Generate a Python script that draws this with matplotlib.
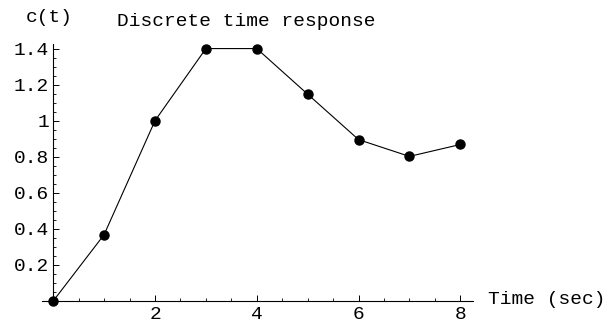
import numpy as np
import matplotlib.pyplot as plt
from matplotlib.ticker import MultipleLocator, FixedLocator

# sampled response c(kT), T = 1 sec
time_sec = [0, 1, 2, 3, 4, 5, 6, 7, 8]
c_t = [0.0, 0.368, 1.0, 1.4, 1.4, 1.147, 0.895, 0.802, 0.868]

x_ticks = [2, 4, 6, 8]
y_ticks = [0.2, 0.4, 0.6, 0.8, 1.0, 1.2, 1.4]
y_tick_labels = ["0.2", "0.4", "0.6", "0.8", "1", "1.2", "1.4"]

plt.rcParams['font.family'] = ['Liberation Mono', 'DejaVu Sans Mono']
fsize = 14

fig = plt.figure(figsize=(6.10, 3.24), dpi=100)
ax = fig.add_axes([0.0689, 0.071, 0.7066, 0.793])

ax.plot(time_sec, c_t, color='black', lw=0.8, marker='o', ms=6.5,
        markerfacecolor='black', markeredgecolor='black', clip_on=False)

ax.set_xlim(-0.22, 8.25)
ax.set_ylim(0, 1.425)

for s in ['top', 'right']:
    ax.spines[s].set_visible(False)
ax.spines['left'].set_position(('data', 0))
ax.spines['bottom'].set_position(('data', 0))
ax.spines['left'].set_linewidth(0.8)
ax.spines['bottom'].set_linewidth(0.8)

ax.xaxis.set_major_locator(FixedLocator(x_ticks))
ax.xaxis.set_minor_locator(MultipleLocator(0.5))
ax.set_yticks(y_ticks)
ax.set_yticklabels(y_tick_labels)
ax.yaxis.set_minor_locator(MultipleLocator(0.05))

ax.tick_params(which='major', direction='in', length=4, width=0.7, labelsize=fsize)
ax.tick_params(which='minor', direction='in', length=2.2, width=0.6)
ax.tick_params(axis='x', pad=3.5)
ax.tick_params(axis='y', pad=3)

fig.text(49/610, 1 - 18/324, "c(t)", ha='center', va='center', fontsize=fsize)
fig.text(246/610, 1 - 22/324, "Discrete time response", ha='center', va='center', fontsize=fsize)
fig.text(488/610, 1 - 300/324, "Time (sec)", ha='left', va='center', fontsize=fsize)

fig.savefig("out.png", dpi=100)
